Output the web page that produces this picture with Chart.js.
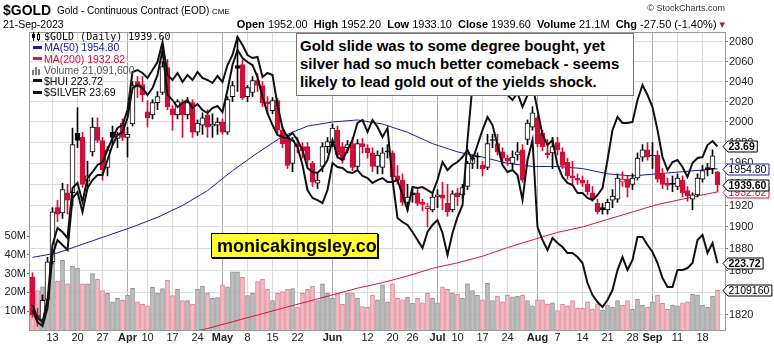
<!DOCTYPE html>
<html>
<head>
<meta charset="utf-8">
<title>$GOLD daily</title>
<script src="https://cdn.jsdelivr.net/npm/chart.js@4.4.1/dist/chart.umd.min.js"></script>
<style>
  html, body { margin: 0; padding: 0; background: #fff; }
  #wrap { position: relative; width: 774px; height: 346px; overflow: hidden; font-family: "Liberation Sans", Arial, sans-serif; color: #000; }
  #myChart { position: absolute; left: 0; top: 0; }
  .t { position: absolute; white-space: nowrap; line-height: 1; pointer-events: none; }
  #sym { left: 3px; top: 3px; font-size: 14px; font-weight: bold; }
  #name { left: 57px; top: 6px; font-size: 10px; }
  #exch { left: 212px; top: 8px; font-size: 8px; }
  #date { left: 3px; top: 19px; font-size: 10.5px; }
  #quote { right: 49px; top: 19px; font-size: 11px; }
  #quote .tri { font-family: "DejaVu Sans", sans-serif; font-size: 7px; color: #b0103a; vertical-align: 1px; }
  #copy { right: 49px; top: 4px; font-size: 9px; color: #333; }
  #legend { left: 32px; top: 31px; font-size: 10.5px; line-height: 11.3px; }
  #legend .mono { font-family: "DejaVu Sans Mono", monospace; font-size: 10px; }
  #legend .dash { display: inline-block; width: 9px; height: 3px; margin: 0 2px 3px 1px; vertical-align: middle; }
  #legend .ico { display: inline-block; position: relative; width: 10px; height: 9px; margin-right: 2px; vertical-align: -1px; }
  #legend .ico i { position: absolute; display: block; }
  #note { left: 296px; top: 33px; width: 333px; height: 58px; background: #fff; border: 1px solid #777; font-size: 15px; font-weight: bold; line-height: 18px; padding: 3px 0 0 3px; }
  #site { left: 211px; top: 233px; width: 167px; height: 25px; background: #ffff33; border: 1px solid #000; box-shadow: 1px 1px 0 #000; font-size: 18px; font-weight: bold; line-height: 25px; padding-left: 5px; box-sizing: border-box; }
</style>
</head>
<body>
<div id="wrap">
  <canvas id="myChart" width="774" height="346"></canvas>
  <div class="t" id="sym">$GOLD</div>
  <div class="t" id="name">Gold - Continuous Contract (EOD)</div>
  <div class="t" id="exch">CME</div>
  <div class="t" id="date">21-Sep-2023</div>
  <div class="t" id="copy">© StockCharts.com</div>
  <div class="t" id="quote"><b>Open</b> 1952.00&nbsp; <b>High</b> 1952.20&nbsp; <b>Low</b> 1933.10&nbsp; <b>Close</b> 1939.60&nbsp; <b>Volume</b> 21.1M&nbsp; <b>Chg</b> -27.50 (-1.40%) <span class="tri">▼</span></div>
  <div class="t" id="legend">
    <div><span class="ico"><i style="left:1px;top:0;width:1px;height:9px;background:#000"></i><i style="left:0;top:2px;width:3px;height:4px;background:#000"></i><i style="left:6px;top:0;width:1px;height:9px;background:#000"></i><i style="left:5px;top:2px;width:1px;height:4px;border:1px solid #000;background:#fff"></i></span><span class="mono">$GOLD (Daily) 1939.60</span></div>
    <div style="color:#1c1c9c"><span class="dash" style="background:#1c1c9c"></span>MA(50) 1954.80</div>
    <div style="color:#d0103a"><span class="dash" style="background:#dc143c"></span>MA(200) 1932.82</div>
    <div style="color:#555"><span class="ico"><i style="left:0;top:4px;width:2px;height:5px;background:#777"></i><i style="left:3px;top:1px;width:2px;height:8px;background:#777"></i><i style="left:6px;top:3px;width:2px;height:6px;background:#777"></i></span>Volume 21,091,600</div>
    <div><span class="dash" style="background:#111"></span>$HUI 223.72</div>
    <div><span class="dash" style="background:#111"></span>$SILVER 23.69</div>
  </div>
  <div class="t" id="note">Gold slide was to some degree bought, yet<br>silver had so much better comeback - seems<br>likely to lead gold out of the yields shock.</div>
  <div class="t" id="site">monicakingsley.co</div>
</div>
<script>
// trading days shown on the chart
const days = [
  'Mar 7','Mar 8','Mar 9','Mar 10','Mar 13','Mar 14','Mar 15','Mar 16','Mar 17','Mar 20','Mar 21','Mar 22','Mar 23','Mar 24','Mar 27','Mar 28','Mar 29','Mar 30','Mar 31',
  'Apr 3','Apr 4','Apr 5','Apr 6','Apr 10','Apr 11','Apr 12','Apr 13','Apr 14','Apr 17','Apr 18','Apr 19','Apr 20','Apr 21','Apr 24','Apr 25','Apr 26','Apr 27','Apr 28',
  'May 1','May 2','May 3','May 4','May 5','May 8','May 9','May 10','May 11','May 12','May 15','May 16','May 17','May 18','May 19','May 22','May 23','May 24','May 25','May 26','May 30','May 31',
  'Jun 1','Jun 2','Jun 5','Jun 6','Jun 7','Jun 8','Jun 9','Jun 12','Jun 13','Jun 14','Jun 15','Jun 16','Jun 20','Jun 21','Jun 22','Jun 23','Jun 26','Jun 27','Jun 28','Jun 29','Jun 30',
  'Jul 3','Jul 5','Jul 6','Jul 7','Jul 10','Jul 11','Jul 12','Jul 13','Jul 14','Jul 17','Jul 18','Jul 19','Jul 20','Jul 21','Jul 24','Jul 25','Jul 26','Jul 27','Jul 28','Jul 31',
  'Aug 1','Aug 2','Aug 3','Aug 4','Aug 7','Aug 8','Aug 9','Aug 10','Aug 11','Aug 14','Aug 15','Aug 16','Aug 17','Aug 18','Aug 21','Aug 22','Aug 23','Aug 24','Aug 25','Aug 28','Aug 29','Aug 30','Aug 31',
  'Sep 1','Sep 5','Sep 6','Sep 7','Sep 8','Sep 11','Sep 12','Sep 13','Sep 14','Sep 15','Sep 18','Sep 19','Sep 20','Sep 21'
];

// x axis labels
const tickDays = ['Mar 13','Mar 20','Mar 27','Apr 3','Apr 10','Apr 17','Apr 24','May 1','May 8','May 15','May 22','Jun 1','Jun 12','Jun 20','Jun 26','Jul 3','Jul 10','Jul 17','Jul 24','Aug 1','Aug 7','Aug 14','Aug 21','Aug 28','Sep 1','Sep 11','Sep 18'];
const tickText = ['13','20','27','Apr','10','17','24','May','8','15','22','Jun','12','20','26','Jul','10','17','24','Aug','7','14','21','28','Sep','11','18'];
const monthNames = ['Apr','May','Jun','Jul','Aug','Sep'];

// y axis labels
const goldTicks = [1820, 1840, 1860, 1880, 1900, 1920, 1940, 1960, 1980, 2000, 2020, 2040, 2060, 2080];
const volTicks = [10, 20, 30, 40, 50];

// $GOLD daily candles
const opens = [
  1854,1820,1816,1834,1868,1918,1913,1932,1932,1989,1985,1943,1971,1995,1982,1956,1990,1984,1999,
  1985,1998,2040,2037,2010,2007,2019,2029,2054,2013,2007,2019,2007,2019,1990,1997,2007,1996,1997,
  2000,1990,2025,2056,2057,2025,2029,2041,2036,2020,2011,2021,1992,1985,1960,1979,1976,1976,1960,1941,1957,1976,
  1980,1992,1976,1975,1979,1957,1979,1975,1970,1957,1956,1972,1970,1948,1944,1923,1932,1932,1923,1917,1916,
  1928,1930,1922,1916,1932,1930,1938,1960,1967,1958,1956,1983,1979,1971,1965,1960,1968,1973,1983,1995,
  2004,1989,1970,1970,1980,1971,1961,1948,1946,1944,1940,1932,1922,1918,1916,1925,1926,1942,1945,1940,1946,1966,1973,
  1968,1968,1950,1941,1941,1938,1944,1934,1926,1930,1945,1956,1955,1952
];
const highs = [
  1858,1826,1838,1872,1918,1925,1941,1940,1994,2014,1990,1962,2004,2004,1985,1976,1996,1990,2003,
  1995,2040,2045,2045,2021,2022,2030,2060,2062,2016,2022,2022,2024,2022,2002,2009,2012,2008,2004,
  2003,2025,2040,2085,2062,2036,2045,2048,2040,2025,2024,2023,1996,1987,1985,1985,1980,1980,1962,1950,1980,1985,
  1998,1996,1980,1982,1985,1983,1984,1978,1975,1972,1975,1978,1972,1958,1950,1940,1936,1935,1926,1922,1932,
  1935,1942,1940,1934,1936,1940,1962,1968,1970,1962,1988,1988,1988,1975,1968,1972,1980,1978,2002,2015,
  2006,1992,1983,1985,1985,1975,1965,1962,1950,1948,1944,1938,1926,1922,1926,1935,1950,1952,1948,1950,1970,1978,1980,
  1980,1972,1955,1946,1948,1950,1948,1938,1932,1950,1958,1960,1973,1952.2
];
const lows = [
  1818,1810,1812,1830,1866,1905,1908,1912,1920,1975,1937,1936,1967,1980,1944,1948,1978,1975,1982,
  1966,1996,2024,2020,1995,2003,2012,2027,2012,1992,2003,1985,2003,1985,1987,1988,1985,1985,1988,
  1988,1988,2020,2030,2022,2020,2025,2030,2015,2008,2008,1988,1975,1955,1952,1970,1965,1958,1938,1936,1952,1970,
  1976,1965,1960,1970,1953,1955,1970,1965,1952,1950,1950,1965,1945,1940,1920,1915,1923,1920,1915,1900,1914,
  1918,1916,1910,1914,1920,1926,1935,1955,1955,1948,1954,1975,1968,1960,1958,1955,1963,1942,1978,1992,
  1976,1972,1965,1955,1968,1955,1945,1940,1940,1938,1930,1924,1912,1912,1912,1918,1923,1938,1928,1935,1944,1962,1963,
  1955,1942,1936,1935,1933,1935,1928,1924,1916,1928,1942,1948,1950,1933.1
];
const closes = [
  1820,1817,1833,1868,1914,1912,1935,1925,1978,1982,1940,1948,1995,1982,1954,1973,1985,1988,1985,
  1988,2036,2035,2027,2004,2019,2025,2055,2015,2007,2020,2007,2019,1990,1999,2004,1995,1998,2000,
  1990,2022,2036,2053,2024,2034,2041,2036,2019,2018,2021,1992,1979,1958,1982,1976,1972,1963,1942,1944,1976,1981,
  1994,1968,1963,1978,1956,1979,1976,1970,1957,1968,1970,1971,1947,1944,1923,1928,1930,1922,1921,1919,1928,
  1930,1927,1914,1931,1928,1937,1960,1965,1966,1955,1979,1982,1971,1965,1962,1966,1971,1944,1999,2009,
  1979,1976,1968,1976,1973,1958,1948,1946,1944,1941,1933,1926,1914,1916,1923,1929,1946,1945,1937,1946,1965,1973,1966,
  1967,1945,1940,1939,1940,1946,1932,1929,1930,1946,1953,1954,1967.1,1939.6
];

// volume, millions
const volumes = [
  28,21,23,33,38,26,37,24.5,34,33,24.5,24.5,30,27,21,19.5,15,16.8,15.9,
  18.6,22.2,15,13.8,12.8,22.7,19.5,22,26.6,18.3,21.6,15.6,15.6,13.8,21.6,23.4,19.5,16.8,17.3,
  24,23,31,31,28,18.3,19.5,25.7,27,21.6,15.6,19.5,20.5,21.6,22,12,19.5,21.6,23.4,15.6,24.5,19.5,
  16.8,19.5,13.8,19.5,19.5,17,12.5,12,18.6,16,24,15,24.5,16.8,16,17.4,14.2,16.8,14.5,19.5,16.8,
  14.5,23,21.6,19.8,19,16.8,24.5,21,18.6,16,24.8,15.6,18,15,18.6,17.7,18,18.6,15.6,12.8,
  16,16,13.8,14.5,10.3,13.8,12.8,15.6,11.5,11.5,15,11,13.8,10.6,13.3,12,15.6,13.3,15.6,11,16.3,13.3,12,
  15,18.6,14.2,11,13.3,12.8,14.5,15,19,18.6,13.3,12,18,21.0916
];

// moving averages read at sample days
const ma50Days = [0,5,10,15,20,25,30,35,40,45,50,55,60,65,70,75,80,85,90,95,100,105,110,115,120,125,130,135,137];
const ma50Vals = [1872,1876,1884,1892,1900,1909,1920,1934,1953,1970,1986,1996,2000,2002,1998,1990,1979,1971,1966,1960,1957,1957,1955,1950,1948,1950,1952,1954,1954.8];
const ma200Days = [30,35,40,45,50,55,60,65,70,75,80,85,90,95,100,105,110,115,120,125,130,135,137];
const ma200Vals = [1803,1808,1814,1820,1826,1832,1838,1844,1849,1855,1862,1867,1873,1881,1888,1895,1900,1907,1914,1921,1926,1931,1932.82];

// overlays
const hui = [
  209.7,206.1,204.9,210.3,226.2,230.7,229.2,227.7,243.3,245.1,239.1,246.3,248.7,250.2,250.2,254.7,259.2,262.2,263.1,
  267.3,276.3,277.2,276.3,274.2,276.3,280.2,287.7,274.2,272.7,270.6,271.8,272.7,270.3,271.5,269.7,268.8,270.3,270.9,
  269.1,275.7,283.2,287.7,285.3,284.1,283.2,279.6,273.6,268.8,265.2,262.2,261.6,261.3,260.7,258.6,253.2,245.7,243.3,242.7,241.8,245.7,
  253.8,252.6,252.3,251.1,250.8,251.7,249.9,249.3,247.8,248.7,249.3,248.1,248.1,248.7,244.2,239.7,246.6,246.3,246.6,245.7,244.8,
  248.7,254.1,251.7,253.2,254.1,255.6,257.7,254.7,259.2,263.7,267.6,265.2,259.2,253.2,251.1,251.7,250.2,242.7,254.7,260.7,
  234.6,230.7,227.7,231.3,229.8,228.6,226.8,226.8,225.6,223.8,217.8,214.2,212.1,210.6,212.7,215.7,221.7,225.6,221.7,224.7,231.6,231.6,229.2,
  227.1,223.8,219.3,216.6,216.6,221.7,221.7,222.3,223.8,230.7,232.2,226.8,229.8,223.72
];
const silver = [
  20.52,20.26,20.18,20.62,21.72,22.06,21.98,21.86,22.86,22.96,22.58,23.06,23.18,23.32,23.38,23.62,23.86,24.06,24.12,
  24.42,25.18,25.22,25.16,25.06,25.22,25.38,25.78,25.12,25.02,25.16,24.98,25.12,25.02,25.18,25.06,25.02,24.96,25.10,
  24.98,25.32,25.52,25.88,25.72,25.52,25.46,25.48,25.08,25.16,25.12,24.52,24.06,23.88,23.96,23.82,23.62,23.26,23.18,23.16,23.26,23.42,
  23.82,23.48,23.42,23.62,23.82,24.16,24.22,23.98,24.22,24.08,23.88,24.06,23.02,22.26,22.18,22.12,21.98,21.82,21.66,21.98,22.12,
  22.22,21.96,21.52,21.96,22.28,22.52,23.82,24.92,25.22,25.12,25.42,25.52,25.42,25.02,24.72,24.62,24.76,24.48,24.72,24.92,
  24.42,23.92,23.72,23.82,23.32,23.08,22.96,22.92,22.76,22.76,22.66,22.62,22.72,22.86,23.42,24.02,24.28,24.16,24.16,24.18,24.62,24.92,24.72,
  24.48,24.02,23.48,23.22,23.38,23.42,23.28,23.08,23.36,23.46,23.48,23.72,23.80,23.69
];

const RED = '#d0103a';
const tickMap = {};
tickDays.forEach((d, k) => { tickMap[days.indexOf(d)] = tickText[k]; });

function isDown(i) {
  return i > 0 ? closes[i] < closes[i - 1] : closes[i] < opens[i];
}
function sparse(idx, vals) {
  const out = days.map(() => null);
  idx.forEach((d, k) => { out[d] = vals[k]; });
  return out;
}

const bodies = opens.map((o, i) => [Math.min(o, closes[i]), Math.max(o, closes[i])]);
const wicks = lows.map((l, i) => [l, highs[i]]);

// value tags on the right edge
const lastTags = [
  { axis: 'yGold', value: 1932.82, text: '1932.82', border: '#dc143c', color: '#dc143c', bold: false },
  { axis: 'yGold', value: 1954.80, text: '1954.80', border: '#1c1c9c', color: '#000', bold: false },
  { axis: 'yGold', value: 1939.60, text: '1939.60', border: '#000', color: '#000', bold: true },
  { axis: 'ySilver', value: 23.69, text: '23.69', border: '#000', color: '#000', bold: true },
  { axis: 'yHui', value: 223.72, text: '223.72', border: '#000', color: '#000', bold: true },
  { axis: 'yVol', value: 21.0916, text: '2109160', border: '#000', color: '#000', bold: false }
];

const framePlugin = {
  id: 'frame',
  afterDatasetsDraw(chart) {
    const { ctx, chartArea: a } = chart;
    ctx.save();
    ctx.strokeStyle = '#9a9a9a';
    ctx.lineWidth = 1;
    ctx.strokeRect(a.left - 0.5, a.top - 0.5, a.right - a.left + 1, a.bottom - a.top + 1);
    ctx.restore();
  }
};

const tagPlugin = {
  id: 'tags',
  afterDraw(chart) {
    const ctx = chart.ctx;
    const x0 = chart.chartArea.right - 2;
    ctx.save();
    lastTags.forEach(t => {
      const y = Math.round(chart.scales[t.axis].getPixelForValue(t.value)) + 0.5;
      ctx.font = (t.bold ? 'bold ' : '') + '10.5px "Liberation Sans", Arial, sans-serif';
      const w = ctx.measureText(t.text).width;
      ctx.beginPath();
      ctx.moveTo(x0, y);
      ctx.lineTo(x0 + 5, y - 5.5);
      ctx.lineTo(x0 + 8 + w, y - 5.5);
      ctx.lineTo(x0 + 8 + w, y + 5.5);
      ctx.lineTo(x0 + 5, y + 5.5);
      ctx.closePath();
      ctx.fillStyle = '#fff';
      ctx.fill();
      ctx.strokeStyle = t.border;
      ctx.lineWidth = 1;
      ctx.stroke();
      ctx.fillStyle = t.color;
      ctx.textBaseline = 'middle';
      ctx.textAlign = 'left';
      ctx.fillText(t.text, x0 + 5.5, y + 0.5);
    });
    ctx.restore();
  }
};

Chart.defaults.font.family = '"Liberation Sans", Arial, sans-serif';
Chart.defaults.font.size = 11;

const ctx = document.getElementById('myChart');

new Chart(ctx, {
  type: 'bar',
  data: {
    labels: [...days, ''],
    datasets: [
      {
        type: 'line',
        label: '$SILVER',
        data: silver,
        yAxisID: 'ySilver',
        borderColor: '#111',
        borderWidth: 2,
        pointRadius: 0,
        order: 1
      },
      {
        type: 'line',
        label: '$HUI',
        data: hui,
        yAxisID: 'yHui',
        borderColor: '#111',
        borderWidth: 2,
        pointRadius: 0,
        order: 2
      },
      {
        label: 'body',
        data: bodies,
        yAxisID: 'yGold',
        grouped: false,
        barThickness: 5,
        borderWidth: 1,
        borderSkipped: false,
        backgroundColor: c => {
          const i = c.dataIndex;
          if (closes[i] > opens[i]) return '#fff';
          return isDown(i) ? RED : '#000';
        },
        borderColor: c => isDown(c.dataIndex) ? RED : '#000',
        order: 4
      },
      {
        label: 'wick',
        data: wicks,
        yAxisID: 'yGold',
        grouped: false,
        barThickness: 1,
        borderWidth: 0,
        backgroundColor: c => isDown(c.dataIndex) ? RED : '#000',
        order: 5
      },
      {
        type: 'line',
        label: 'MA(50)',
        data: sparse(ma50Days, ma50Vals),
        yAxisID: 'yGold',
        borderColor: '#1c1c9c',
        borderWidth: 1,
        pointRadius: 0,
        spanGaps: true,
        order: 6
      },
      {
        type: 'line',
        label: 'MA(200)',
        data: sparse(ma200Days, ma200Vals),
        yAxisID: 'yGold',
        borderColor: '#dc143c',
        borderWidth: 1,
        pointRadius: 0,
        spanGaps: true,
        order: 7
      },
      {
        label: 'Volume',
        data: volumes,
        yAxisID: 'yVol',
        grouped: false,
        barThickness: 4,
        borderWidth: 1,
        backgroundColor: c => isDown(c.dataIndex) ? '#f2bcc6' : '#bdbdbd',
        borderColor: c => isDown(c.dataIndex) ? '#e07a8e' : '#8f8f8f',
        order: 10
      }
    ]
  },
  options: {
    responsive: false,
    animation: false,
    layout: { padding: { top: 33, left: 0, right: 0, bottom: 0 }, autoPadding: false },
    plugins: {
      legend: { display: false },
      tooltip: { enabled: false }
    },
    scales: {
      x: {
        type: 'category',
        offset: true,
        border: { display: false },
        grid: {
          offset: false,
          drawTicks: false,
          color: c => {
            const lab = tickMap[c.index];
            if (!lab) return 'rgba(0,0,0,0)';
            return monthNames.includes(lab) ? '#a9a9a9' : '#dcdcdc';
          }
        },
        ticks: {
          autoSkip: false,
          maxRotation: 0,
          minRotation: 0,
          padding: 1,
          color: '#222',
          font: c => ({ size: 11, weight: monthNames.includes(tickMap[c.index]) ? 'bold' : 'normal' }),
          callback: (v, i) => tickMap[i] || ''
        },
        afterFit: s => { s.height = 16; }
      },
      yGold: {
        type: 'logarithmic',
        position: 'right',
        min: 1806.7,
        max: 2088.9,
        border: { display: false },
        afterBuildTicks: s => { s.ticks = goldTicks.map(v => ({ value: v })); },
        grid: { color: '#dcdcdc', tickColor: '#777', tickLength: 3 },
        ticks: { padding: 1, color: '#222', font: { size: 11 }, callback: v => String(v) },
        afterFit: s => { s.width = 49; }
      },
      yVol: {
        type: 'linear',
        position: 'left',
        min: 0,
        max: 158,
        border: { display: false },
        afterBuildTicks: s => { s.ticks = volTicks.map(v => ({ value: v })); },
        grid: { drawOnChartArea: false, tickColor: '#777', tickLength: 3 },
        ticks: { padding: 1, color: '#222', font: { size: 11 }, callback: v => v + 'M' },
        afterFit: s => { s.width = 30; }
      },
      yHui: { type: 'linear', display: false, min: 203.71, max: 292.81 },
      ySilver: { type: 'linear', display: false, min: 20.02, max: 25.96 }
    }
  },
  plugins: [framePlugin, tagPlugin]
});
</script>
</body>
</html>
